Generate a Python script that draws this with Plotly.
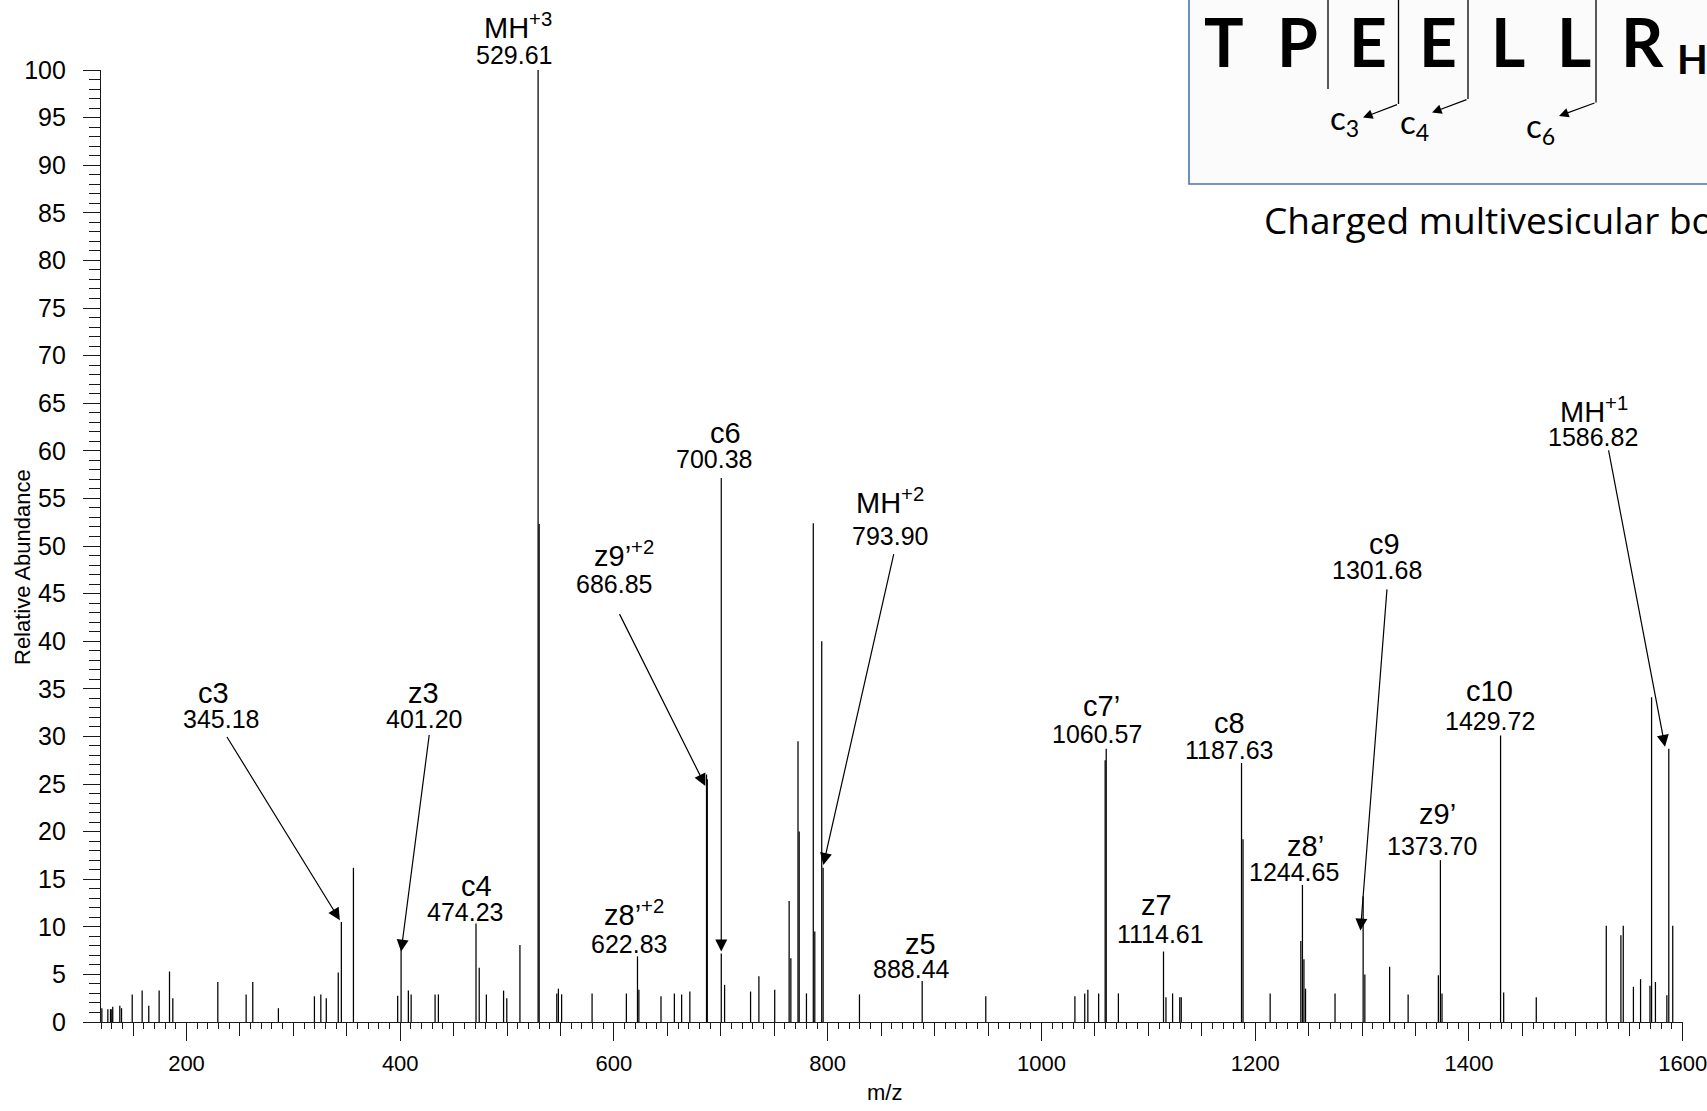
import plotly.graph_objects as go

# ---------------- data: peak list (m/z, relative abundance) ----------------
mz = [120.8, 126.4, 128.9, 130.1, 131.0, 137.6, 139.2, 149.2, 158.5, 164.7,
      174.4, 184.1, 187.2, 229.3, 255.8, 262.0, 286.0, 319.7, 325.7, 330.8,
      342.0, 344.9, 356.2, 397.6, 400.8, 407.6, 410.2, 432.6, 435.7, 470.9,
      473.9, 480.6, 496.7, 499.7, 512.0, 529.0, 530.0, 546.5, 548.0, 551.0,
      579.5, 611.6, 622.0, 623.3, 644.0, 656.5, 663.3, 671.0, 686.6, 687.3,
      700.4, 703.5, 727.8, 735.6, 750.4, 763.9, 765.5, 772.2, 773.3, 780.1,
      786.5, 787.9, 794.4, 795.7, 829.7, 888.4, 947.9, 1031.3, 1040.5, 1043.4,
      1053.5, 1059.6, 1060.6, 1072.0, 1114.2, 1116.5, 1122.7, 1129.4, 1130.8, 1187.2,
      1188.6, 1214.0, 1242.7, 1244.2, 1245.6, 1247.1, 1274.7, 1301.0, 1302.6, 1325.8,
      1343.1, 1371.4, 1373.3, 1374.8, 1429.6, 1432.5, 1463.0, 1528.5, 1542.2, 1544.4,
      1553.9, 1560.6, 1569.4, 1570.9, 1574.5, 1585.2, 1587.0, 1590.7]
abundance = [1.45, 1.35, 1.35, 1.35, 1.6, 1.7, 1.45, 2.9, 3.3, 1.7,
             3.3, 5.3, 2.5, 4.2, 2.9, 4.2, 1.45, 2.7, 2.9, 2.5,
             5.2, 10.5, 16.2, 2.75, 7.8, 3.3, 2.9, 2.9, 2.9, 10.35,
             5.7, 2.9, 3.3, 2.5, 8.1, 100.0, 52.3, 3.0, 3.5, 2.9,
             3.0, 3.0, 6.9, 3.4, 2.7, 3.0, 2.9, 3.2, 26.0, 25.5,
             7.2, 3.9, 3.2, 4.8, 3.4, 12.7, 6.7, 29.5, 20.0, 3.0,
             52.4, 9.5, 40.0, 16.2, 2.9, 4.3, 2.7, 2.7, 3.0, 3.4,
             3.0, 27.5, 28.7, 3.0, 7.4, 2.6, 3.0, 2.6, 2.6, 27.2,
             19.2, 3.0, 8.5, 14.4, 6.6, 3.5, 3.0, 13.2, 5.0, 5.8,
             2.9, 4.9, 17.0, 3.0, 30.1, 3.1, 2.6, 10.1, 9.1, 10.1,
             3.7, 4.5, 3.8, 34.1, 4.2, 2.8, 28.7, 10.1]

# ---------------- data: peak annotations ----------------
ion_names = ["MH<sup>+3</sup>", "c6", "z9’<sup>+2</sup>", "MH<sup>+2</sup>", "c3", "z3",
             "c4", "z8’<sup>+2</sup>", "z5", "c7’", "z7", "c8", "z8’", "c9", "z9’",
             "c10", "MH<sup>+1</sup>"]
ion_values = ["529.61", "700.38", "686.85", "793.90", "345.18", "401.20", "474.23",
              "622.83", "888.44", "1060.57", "1114.61", "1187.63", "1244.65",
              "1301.68", "1373.70", "1429.72", "1586.82"]

# label placement (x in m/z, y in abundance units)
name_pos = [(510, 104.6), (704, 61.9), (609, 49.2), (858, 54.7), (225, 34.6), (422, 34.6),
            (471, 14.3), (619, 11.4), (887, 8.2), (1056, 33.2), (1108, 12.3), (1176, 31.4),
            (1247, 18.5), (1321, 50.2), (1371, 21.9), (1419, 34.8), (1517, 64.3)]
value_pos = [(506, 101.6), (694, 59.1), (600, 46.0), (858, 51.1), (232, 31.8), (422, 31.8),
             (461, 11.6), (614, 8.2), (878, 5.6), (1052, 30.3), (1111, 9.2), (1176, 28.6),
             (1236, 15.8), (1314, 47.5), (1365, 18.5), (1420, 31.6), (1516, 61.4)]
# arrows: (tip_x, tip_y, tail_x, tail_y)
arrows = [(343.5, 10.7, 237, 30.1), (400.8, 7.4, 427.3, 30.3), (685.5, 24.8, 604.5, 43.0),
          (700.4, 7.4, 700.4, 57.3), (795.9, 16.5, 862.1, 49.3), (1298.5, 9.6, 1323.4, 45.6),
          (1583.5, 28.9, 1530.4, 60.2)]

x_tick_vals = list(range(150, 1601, 50))
x_tick_text = [str(v) if v % 200 == 0 else "" for v in x_tick_vals]
x_long_ticks = list(range(200, 1601, 200))
y_tick_vals = list(range(0, 101, 5))

seq_letters = ["T", "P", "E", "E", "L", "L", "R"]
seq_x_px = [1223.5, 1297, 1368, 1438, 1508, 1574, 1642]
frag_labels = ["c<sub>3</sub>", "c<sub>4</sub>", "c<sub>6</sub>"]

# ---------------- figure ----------------
W, H = 1707, 1111
L, R, T, B = 101, 24, 70, 89
PW, PH = W - L - R, H - T - B
FONT = "Arial, Liberation Sans, sans-serif"
INK = "#1a1a1a"


def px(x):
    return (x - L) / PW


def py(y):
    return (T + PH - y) / PH


xs, ys = [], []
for m, a in zip(mz, abundance):
    xs += [m, m, None]
    ys += [0, a, None]

fig = go.Figure()
fig.add_trace(go.Scatter(x=xs, y=ys, mode="lines", line=dict(color="black", width=1.25),
                         hoverinfo="skip", showlegend=False))
fig.add_trace(go.Scatter(x=[None], y=[None], xaxis="x2", yaxis="y", showlegend=False,
                         hoverinfo="skip"))

annotations = []
for name, val, (nx, ny), (vx, vy) in zip(ion_names, ion_values, name_pos, value_pos):
    annotations.append(dict(x=nx, y=ny / 100.0, xref="x", yref="paper", text=name,
                            showarrow=False, font=dict(family=FONT, size=29, color="black"),
                            xanchor="center", yanchor="middle"))
    annotations.append(dict(x=vx, y=vy / 100.0, xref="x", yref="paper", text=val,
                            showarrow=False, font=dict(family=FONT, size=25, color="black"),
                            xanchor="center", yanchor="middle"))
for tx, ty, ax, ay in arrows:
    annotations.append(dict(x=tx, y=ty, ax=ax, ay=ay, xref="x", yref="y", axref="x",
                            ayref="y", text="", showarrow=True, arrowhead=2, arrowsize=2,
                            arrowwidth=1.2, arrowcolor="black", standoff=0))

# axis titles
annotations.append(dict(x=px(22), y=py(567), xref="paper", yref="paper",
                        text="Relative Abundance", textangle=-90, showarrow=False,
                        font=dict(family=FONT, size=22, color="black"),
                        xanchor="center", yanchor="middle"))
annotations.append(dict(x=px(884), y=py(1092), xref="paper", yref="paper", text="m/z",
                        showarrow=False, font=dict(family=FONT, size=22, color="black"),
                        xanchor="center", yanchor="middle"))

# inset: sequence panel
shapes = [dict(type="rect", xref="paper", yref="paper", x0=px(1189), x1=px(1730),
               y0=py(184), y1=py(-30), line=dict(color="#4A76B0", width=1.6),
               fillcolor="#FBFBFB", layer="above")]
for lx, lb in [(1328, 89), (1398.5, 104), (1468, 99), (1596, 102.5)]:
    shapes.append(dict(type="line", xref="paper", yref="paper", x0=px(lx), x1=px(lx),
                       y0=py(-5), y1=py(lb), line=dict(color="black", width=1.3),
                       layer="above"))
for (tx, ty), (sx, sy) in zip([(1363, 117.6), (1432, 112.6), (1559, 116)],
                              [(1398.5, 104), (1468, 99), (1596, 102.5)]):
    annotations.append(dict(x=px(tx), y=py(ty), xref="paper", yref="paper",
                            ax=sx - tx, ay=sy - ty, text="", showarrow=True, arrowhead=2,
                            arrowsize=1.6, arrowwidth=1.2, arrowcolor="black", standoff=0))
for letter, lx in zip(seq_letters, seq_x_px):
    annotations.append(dict(x=px(lx), y=py(0), xref="paper", yref="paper", text=letter,
                            showarrow=False, xanchor="center", yanchor="top",
                            font=dict(family="Lato", size=66, color="black", weight="bold")))
annotations.append(dict(x=px(1675), y=py(33), xref="paper", yref="paper", text="H",
                        showarrow=False, xanchor="left", yanchor="top",
                        font=dict(family="Lato", size=40, color="black", weight="bold")))
for lab, (cx, cy) in zip(frag_labels, [(1344, 119), (1414, 123), (1540, 127)]):
    annotations.append(dict(x=px(cx), y=py(cy), xref="paper", yref="paper", text=lab,
                            showarrow=False, xanchor="center", yanchor="middle",
                            font=dict(family="Lato", size=33, color="black")))
annotations.append(dict(x=px(1262), y=py(219), xref="paper", yref="paper",
                        text="Charged multivesicular body protein", showarrow=False,
                        xanchor="left", yanchor="middle",
                        font=dict(family="Open Sans", size=37, color="black")))

fig.update_layout(
    width=W, height=H,
    margin=dict(l=L, r=R, t=T, b=B, pad=0, autoexpand=False),
    paper_bgcolor="white", plot_bgcolor="white",
    font=dict(family=FONT, color="black"),
    xaxis=dict(range=[120, 1600.3], tickvals=x_tick_vals, ticktext=x_tick_text,
               ticks="outside", ticklen=13, tickwidth=1.2, tickcolor=INK,
               showline=True, linecolor=INK, linewidth=1.3, showgrid=False,
               zeroline=False, tickfont=dict(family=FONT, size=22, color="black"),
               ticklabelstandoff=8, ticklabeloverflow="allow", automargin=False,
               minor=dict(dtick=10, tick0=0, ticks="outside", ticklen=6, tickwidth=1.1,
                          tickcolor=INK, showgrid=False)),
    xaxis2=dict(matches="x", overlaying="x", anchor="y", side="bottom",
                tickvals=x_long_ticks, ticks="outside", ticklen=18, tickwidth=1.2,
                tickcolor=INK, showticklabels=False, showline=False, showgrid=False,
                zeroline=False, automargin=False),
    yaxis=dict(range=[0, 100], tickvals=y_tick_vals, ticks="outside", ticklen=17,
               tickwidth=1.2, tickcolor=INK, showline=True, linecolor=INK, linewidth=1.3,
               showgrid=False, zeroline=False, automargin=False,
               tickfont=dict(family=FONT, size=25, color="black"), ticklabelstandoff=12,
               minor=dict(dtick=1, tick0=0, ticks="outside", ticklen=11, tickwidth=1.1,
                          tickcolor=INK, showgrid=False)),
    annotations=annotations,
    shapes=shapes,
)

fig.write_html("out.html", config={"displayModeBar": False},
               post_script="document.body.style.margin='0';document.body.style.overflow='hidden';")
